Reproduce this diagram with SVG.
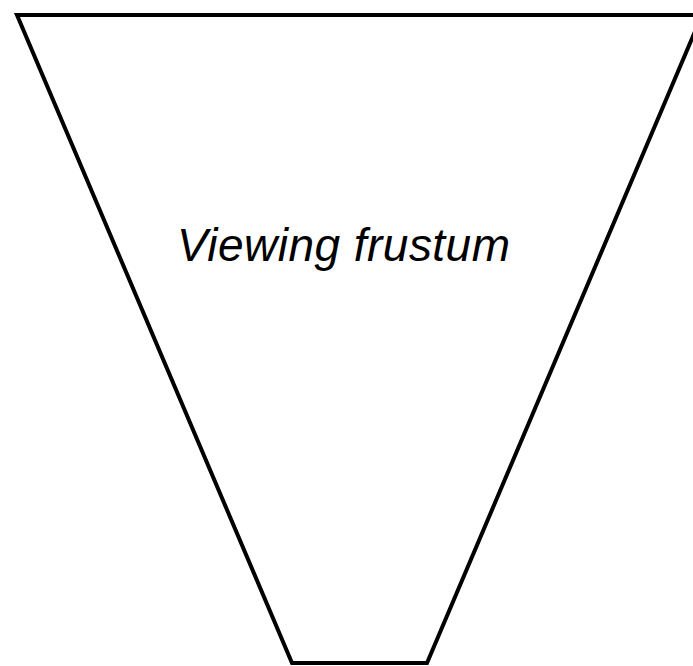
<svg xmlns="http://www.w3.org/2000/svg" width="693" height="666" viewBox="0 0 693 666">
<style>
.shape{fill:#fff;stroke:#000;stroke-width:4;stroke-linejoin:miter}
.lbl{font-family:"Liberation Sans",Arial,Helvetica,sans-serif;font-style:italic;font-size:46px;fill:#000}
</style>
<rect width="693" height="666" fill="#fff"/>
<g id="frustum">
<polygon class="shape" points="17,15 702,15 427,663 292,663"/>
<text class="lbl" x="177" y="261" textLength="333" lengthAdjust="spacing">Viewing frustum</text>
</g>
</svg>
